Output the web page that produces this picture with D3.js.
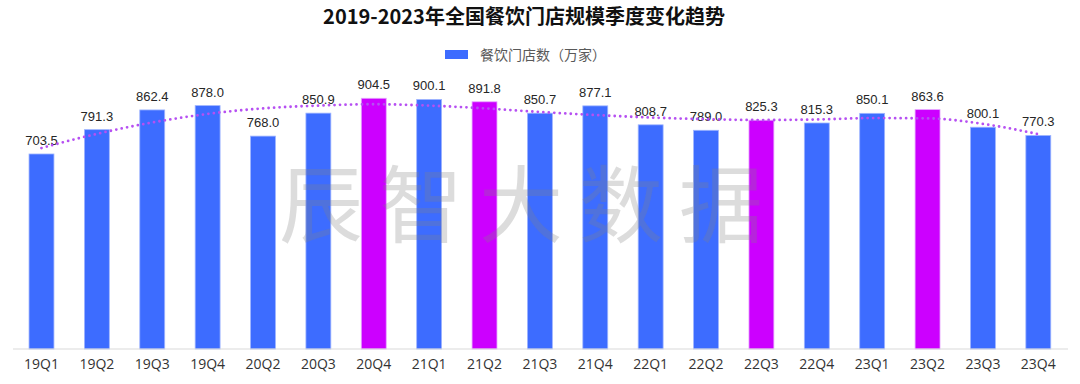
<!DOCTYPE html>
<html>
<head>
<meta charset="utf-8">
<script src="https://cdn.jsdelivr.net/npm/d3@7"></script>
<style>
  body { margin: 0; background: #fff; }
  svg { display: block; }
</style>
</head>
<body>
<svg id="chart" width="1080" height="384"></svg>
<script>
// data
var quarters = ["19Q1","19Q2","19Q3","19Q4","20Q2","20Q3","20Q4","21Q1","21Q2","21Q3",
                "21Q4","22Q1","22Q2","22Q3","22Q4","23Q1","23Q2","23Q3","23Q4"];
var stores = [703.5,791.3,862.4,878.0,768.0,850.9,904.5,900.1,891.8,850.7,
              877.1,808.7,789.0,825.3,815.3,850.1,863.6,800.1,770.3];
// dotted trend line
var trend = [725,776,817,848,868,878,883,878,868,855,
             844,835,829,826,828,833,832,812,775];
var highlighted = ["20Q4","21Q2","22Q3","23Q2"];

var svg = d3.select("#chart");
var cjk = "'Noto Sans CJK SC', 'Noto Sans', sans-serif";

var x = d3.scaleBand().domain(quarters).range([13.8, 1066]).paddingInner(0.55).paddingOuter(0.275);
var y = d3.scaleLinear().domain([0, 1000]).range([349, 71.8]);

// title
svg.append("text")
    .attr("x", 524).attr("y", 24)
    .attr("text-anchor", "middle")
    .style("font-family", cjk).style("font-weight", "bold").style("font-size", "20px")
    .style("fill", "#111")
    .text("2019-2023年全国餐饮门店规模季度变化趋势");

// legend
svg.append("rect").attr("x", 445).attr("y", 50).attr("width", 23).attr("height", 9)
    .attr("fill", "#3d6cff");
svg.append("text")
    .attr("x", 480).attr("y", 60)
    .style("font-family", cjk).style("font-size", "14px").style("fill", "#595959")
    .text("餐饮门店数（万家）");

// bars
var rows = quarters.map(function(q, i) { return {q: q, v: stores[i], t: trend[i]}; });

svg.append("g").selectAll("rect")
    .data(rows)
    .enter().append("rect")
    .attr("x", function(d) { return x(d.q); })
    .attr("y", function(d) { return y(d.v); })
    .attr("width", x.bandwidth())
    .attr("height", function(d) { return y(0) - y(d.v); })
    .attr("fill", function(d) { return highlighted.indexOf(d.q) >= 0 ? "#cc00ff" : "#3d6cff"; })
    .attr("stroke", function(d) { return highlighted.indexOf(d.q) >= 0 ? "#e6a6ff" : "#9fb5ff"; })
    .attr("stroke-width", 0.8);

// value labels
svg.append("g").selectAll("text")
    .data(rows)
    .enter().append("text")
    .attr("x", function(d) { return x(d.q) + x.bandwidth()/2; })
    .attr("y", function(d) { return y(d.v) - 9; })
    .attr("text-anchor", "middle")
    .style("font-family", "'Liberation Sans', Arial, sans-serif").style("font-size", "13px")
    .style("fill", "#262626")
    .text(function(d) { return d.v.toFixed(1); });

// trend line
var line = d3.line()
    .x(function(d) { return x(d.q) + x.bandwidth()/2; })
    .y(function(d) { return y(d.t); })
    .curve(d3.curveMonotoneX);

svg.append("path")
    .datum(rows)
    .attr("d", line)
    .attr("fill", "none")
    .attr("stroke", "#b650f2")
    .attr("stroke-width", 2.8)
    .attr("stroke-linecap", "round")
    .attr("stroke-dasharray", "0 5.5");

// x axis
var xAxis = svg.append("g")
    .attr("transform", "translate(0," + y(0) + ")")
    .call(d3.axisBottom(x).tickSize(0).tickPadding(10));
xAxis.select(".domain").attr("stroke", "#d9d9d9").attr("stroke-width", 1.2)
    .attr("d", "M13,0H1068");
xAxis.selectAll("text")
    .style("font-family", "'Open Sans', 'Noto Sans', sans-serif").style("font-size", "14px")
    .style("fill", "#333");

// watermark on top
svg.append("text")
    .attr("x", 529).attr("y", 236)
    .attr("text-anchor", "middle")
    .style("font-family", cjk).style("font-size", "84px")
    .style("letter-spacing", "16px")
    .style("fill", "#808080").style("fill-opacity", 0.28)
    .text("辰智大数据");
</script>
</body>
</html>
